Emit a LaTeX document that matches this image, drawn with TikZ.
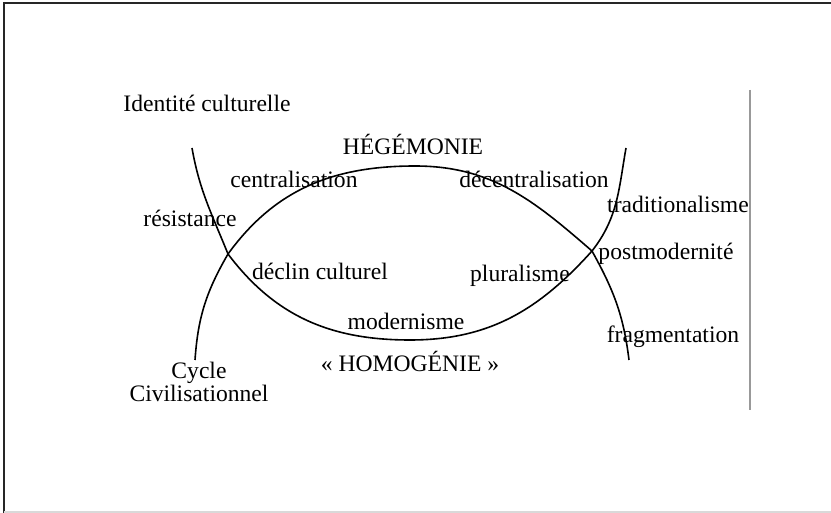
\documentclass[tikz,border=0pt]{standalone}
\usepackage{fontspec}
\setmainfont{Liberation Serif}
\begin{document}
\begin{tikzpicture}[x=0.5pt,y=0.5pt,line width=0.8pt]
	\tikzstyle{lbl}=[font=\fontsize{11.8}{12}\selectfont,inner sep=0pt,anchor=base]
	\useasboundingbox (0,0) rectangle (831,-513);

	% frame and right rule
	\draw[black!85,line width=0.9pt] (831,-3) -- (4,-3) -- (4,-513);
	\draw[black!15,line width=0.7pt] (4,-512) -- (831,-512);
	\draw[black!40,line width=0.7pt] (750,-90) -- (750,-410);

	\coordinate (xl) at (228,-254);
	\coordinate (xr) at (592,-251);
	\coordinate (top) at (415,-166);
	\coordinate (bot) at (410,-340);
	\coordinate (lt) at (192,-148);
	\coordinate (lb) at (195,-360);
	\coordinate (rt) at (626,-148);
	\coordinate (rb) at (629,-360);

	% the ellipse and the two cycles
	\draw (xl) to[out=54,in=180] (top) to[out=0,in=139] (xr);
	\draw (xl) to[out=-53,in=180] (bot) to[out=0,in=-132] (xr);
	\draw (lt) to[out=-80,in=112] (xl) to[out=-120,in=86] (lb);
	\draw (rt) to[out=-100,in=52] (xr) to[out=-61,in=97] (rb);

	\node[lbl](ident) at (207,-112){Identité culturelle};
	\node[lbl](hegem) at (413,-155){HÉGÉMONIE};
	\node[lbl](central) at (294,-188){centralisation};
	\node[lbl](decentral) at (534,-188){décentralisation};
	\node[lbl](resist) at (190,-227){résistance};
	\node[lbl](tradit) at (678,-213){traditionalisme};
	\node[lbl](postmod) at (666,-260){postmodernité};
	\node[lbl](declin) at (320,-280){déclin culturel};
	\node[lbl](plural) at (520,-282){pluralisme};
	\node[lbl](modern) at (406,-330){modernisme};
	\node[lbl](homog) at (410,-372){«~HOMOGÉNIE~»};
	\node[lbl](fragm) at (673,-343){fragmentation};
	\node[lbl,align=center](cycle) at (199,-402){Cycle\\Civilisationnel};
\end{tikzpicture}
\end{document}
